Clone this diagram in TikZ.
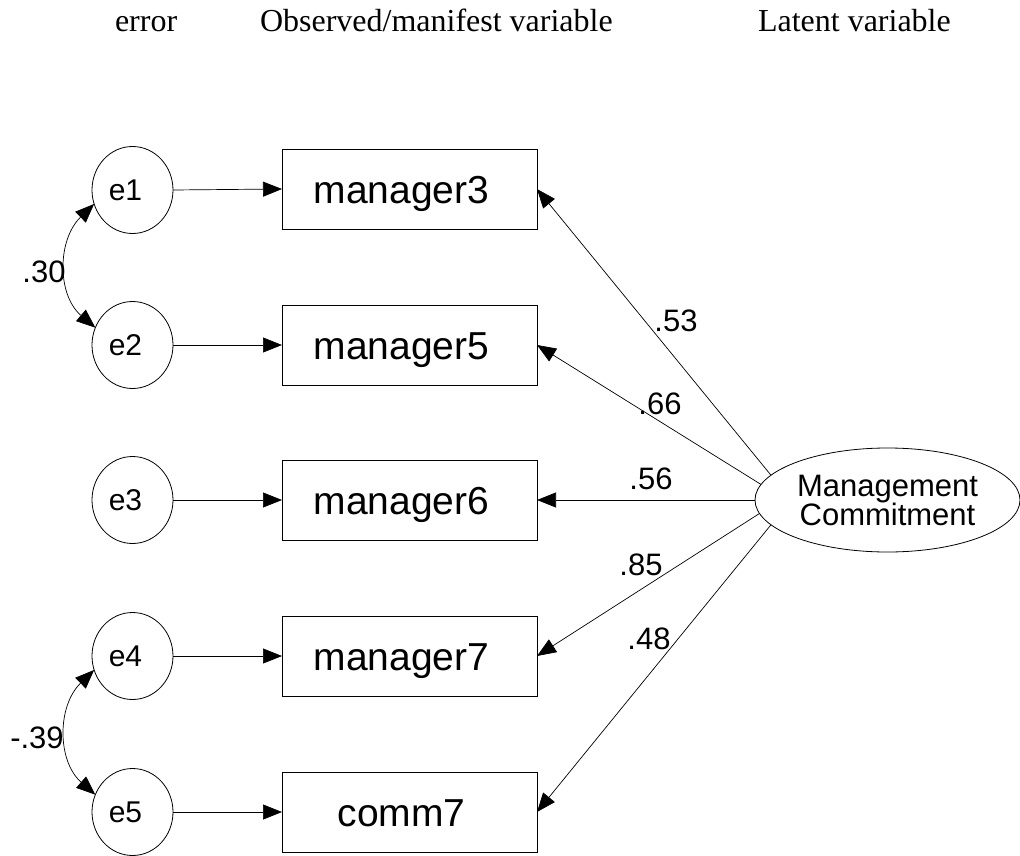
\documentclass[tikz,border=0pt]{standalone}
\usepackage{fontspec}
\setmainfont{Liberation Serif}
\newfontfamily\arialf{Liberation Sans}
\usetikzlibrary{arrows.meta,shapes.geometric}
\begin{document}
\begin{tikzpicture}[x=1pt,y=-1pt,
  every node/.style={inner sep=0pt, outer sep=0pt},
  obs/.style={draw, rectangle, line width=0.9pt, minimum width=255pt, minimum height=80pt,
    font=\arialf\fontsize{39}{39}\selectfont, text height=28pt, text depth=0pt},
  err/.style={draw, ellipse, line width=0.8pt, minimum width=81pt, minimum height=87pt,
    font=\arialf\fontsize{30}{30}\selectfont, text height=21.5pt, text depth=0pt},
  latent/.style={draw, ellipse, line width=0.8pt, minimum width=265pt, minimum height=104pt,
    align=center, font=\arialf\fontsize{31}{29}\selectfont},
  coef/.style={font=\arialf\fontsize{31}{31}\selectfont},
  head/.style={font=\fontsize{32}{32}\selectfont, anchor=base west},
  tipA/.tip={Triangle[length=19pt,width=15pt]},
  arr/.style={line width=0.7pt, -tipA},
  dbl/.style={line width=0.7pt, tipA-tipA},
]
\useasboundingbox (0,0) rectangle (1020,856);

% column headings
\node[head] (h1) at (115,32) {error};
\node[head] (h2) at (260,32) {Observed/manifest variable};
\node[head] (h3) at (758,32) {Latent variable};

% error terms
\node[err] (e1) at (132.5,190) {e1\kern14pt};
\node[err] (e2) at (132.5,345) {e2\kern14pt};
\node[err] (e3) at (132.5,500) {e3\kern14pt};
\node[err] (e4) at (132.5,656) {e4\kern14pt};
\node[err] (e5) at (132.5,812) {e5\kern14pt};

% observed indicators
\node[obs] (m3) at (409.5,189) {manager3\kern16pt};
\node[obs] (m5) at (409.5,345) {manager5\kern16pt};
\node[obs] (m6) at (409.5,500) {manager6\kern16pt};
\node[obs] (m7) at (409.5,656) {manager7\kern16pt};
\node[obs] (c7) at (409.5,812) {comm7\kern16pt};

% latent factor
\node[latent] (lat) at (887.5,500) {Management\\Commitment};

% error paths
\draw[arr] (e1.east) -- (m3.west);
\draw[arr] (e2.east) -- (m5.west);
\draw[arr] (e3.east) -- (m6.west);
\draw[arr] (e4.east) -- (m7.west);
\draw[arr] (e5.east) -- (c7.west);

% factor loadings
\draw[arr] (lat.168) -- (m3.east);
\draw[arr] (lat.173.4) -- (m5.east);
\draw[arr] (lat.west) -- (m6.east);
\draw[arr] (lat.186.6) -- (m7.east);
\draw[arr] (lat.192) -- (c7.east);

\node[coef] (l1) at (676,321) {.53};
\node[coef] (l2) at (660,404) {.66};
\node[coef] (l3) at (651,479) {.56};
\node[coef] (l4) at (641,565) {.85};
\node[coef] (l5) at (649,639) {.48};

% error covariances
\draw[dbl] (e1.200) .. controls (57,240) and (57,295) .. (e2.155);
\draw[dbl] (e4.200) .. controls (57,706) and (57,761) .. (e5.155);
\node[coef] (r1) at (44,272) {.30};
\node[coef] (r2) at (37,738) {-.39};
\end{tikzpicture}
\end{document}
